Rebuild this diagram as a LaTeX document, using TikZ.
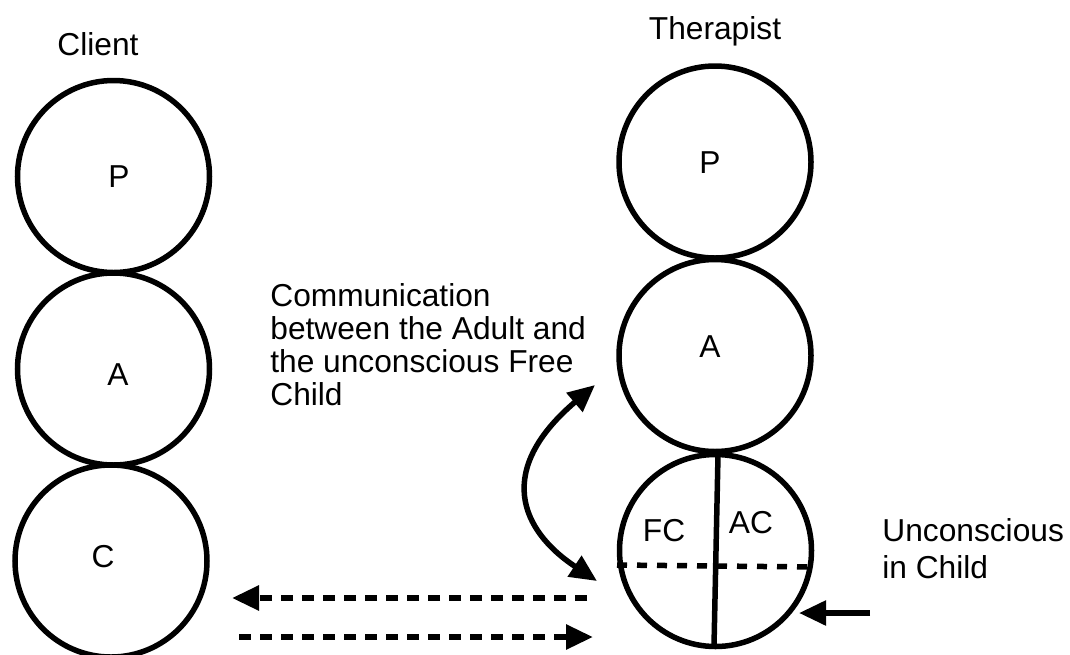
\documentclass[tikz,border=0pt]{standalone}
\usepackage{fontspec}
\setmainfont{Liberation Sans}
\usetikzlibrary{arrows.meta}
\begin{document}
\begin{tikzpicture}[x=0.5pt,y=-0.5pt,
  ego/.style={draw,circle,line width=2.75pt,minimum size=96pt,inner sep=0pt},
  lbl/.style={inner sep=0pt,anchor=base,font=\fontsize{15.85}{16.5}\selectfont},
  note/.style={inner sep=0pt,anchor=north west,align=left},
  thick line/.style={line width=2.75pt},
  tip/.style={-{Triangle[length=13.5pt,width=12pt]}},
  dtip/.style={{Triangle[length=13.5pt,width=12pt]}-{Triangle[length=13.5pt,width=12pt]}},
  dashline/.style={line width=2.9pt,dash pattern=on 6pt off 4.5pt}]
\useasboundingbox (0,0) rectangle (1070,654);

% Client ego states
\node[ego] (cp) at (113.5,176.5) {};
\node[ego] (ca) at (113.5,369) {};
\node[ego] (cc) at (111,561) {};
\node[lbl] (clabel) at (98,55.5) {Client};
\node[lbl] (cpt) at (119,187) {P};
\node[lbl] (cat) at (118,385) {A};
\node[lbl] (cct) at (103,567.5) {C};

% Therapist ego states
\node[ego] (tp) at (715,162) {};
\node[ego] (ta) at (715,355.5) {};
\node[ego] (tc) at (715.5,550.5) {};
\node[lbl] (tlabel) at (715,39.5) {Therapist};
\node[lbl] (tpt) at (710,173) {P};
\node[lbl] (tat) at (710,357) {A};
\node[lbl] (fct) at (664,541) {FC};
\node[lbl] (act) at (751,533) {AC};

% Child split into Free / Adapted, with the unconscious part below the dashed line
\coordinate (vtop) at (718,455);
\coordinate (vbot) at (714,646);
\draw[thick line] (vtop) -- (vbot);
\coordinate (hl) at (617,565);
\coordinate (hr) at (814,567);
\draw[line width=2.75pt,dash pattern=on 5pt off 5pt] (hl) -- (hr);

% Notes
\node[note,font=\fontsize{15.85}{16.5}\selectfont] (comm) at (270,283)
  {Communication\\between the Adult and\\the unconscious Free\\Child};
\node[note,font=\fontsize{15.85}{18.5}\selectfont] (unc) at (882,518)
  {Unconscious\\in Child};

% Adult <-> unconscious Free Child
\coordinate (ctop) at (595,385);
\coordinate (cbot) at (597,581);
\draw[thick line,dtip] (ctop) .. controls (495,470) and (520,530) .. (cbot);

% Transactions between client and therapist
\coordinate (l1s) at (587,598);
\coordinate (l1e) at (232,598);
\coordinate (l2s) at (239,637);
\coordinate (l2e) at (593,637);
\draw[dashline,tip] (l1s) -- (l1e);
\draw[dashline,tip] (l2s) -- (l2e);

% Pointer to the unconscious part of the Child
\coordinate (ps) at (870,613);
\coordinate (pe) at (799,613);
\draw[thick line,tip] (ps) -- (pe);
\end{tikzpicture}
\end{document}
